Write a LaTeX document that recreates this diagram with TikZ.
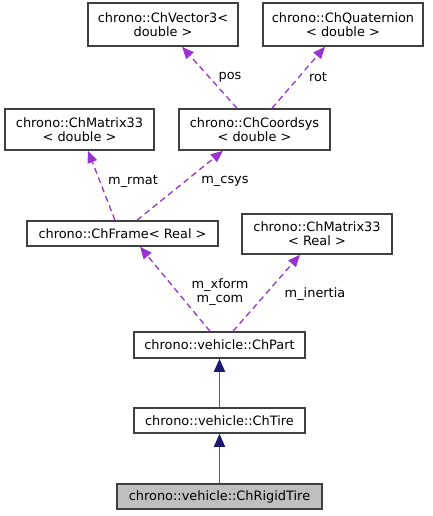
\documentclass[tikz,border=0pt]{standalone}
\usepackage{fontspec}
\setmainfont{DejaVu Sans}
\usetikzlibrary{arrows.meta,calc}
\definecolor{dep}{HTML}{9A32CD}
\definecolor{inh}{HTML}{191970}
\definecolor{inhline}{HTML}{5A5A9E}
\definecolor{bord}{HTML}{404040}
\begin{document}
\begin{tikzpicture}[x=1pt,y=-1pt,
  box/.style={draw=bord,line width=1.5pt,fill=white,align=center,inner sep=0pt,font=\fontsize{12.9}{14}\selectfont},
  depl/.style={draw=dep,dash pattern=on 6pt off 4pt,line width=1.3pt,-{Triangle[length=12pt,width=10pt,color=dep,fill=dep]}},
  inhl/.style={draw=inhline,line width=1.7pt,-{Triangle[length=13pt,width=11pt,color=inh,fill=inh]}},
  lbl/.style={font=\fontsize{12.9}{14}\selectfont,align=center,inner sep=0pt}]
\useasboundingbox (0,0) rectangle (432,516);
\node[box,minimum width=150pt,minimum height=43pt] (vec) at (163,24.5) {chrono::ChVector3<\\double >};
\node[box,minimum width=160pt,minimum height=43pt] (quat) at (343,24.5) {chrono::ChQuaternion\\< double >};
\node[box,minimum width=149pt,minimum height=41pt] (matd) at (79.5,129.5) {chrono::ChMatrix33\\< double >};
\node[box,minimum width=151pt,minimum height=41pt] (coord) at (254.5,129.5) {chrono::ChCoordsys\\< double >};
\node[box,minimum width=191pt,minimum height=25pt] (frame) at (122.5,233.5) {chrono::ChFrame< Real >};
\node[box,minimum width=150pt,minimum height=40pt] (matr) at (317,234) {chrono::ChMatrix33\\< Real >};
\node[box,minimum width=171pt,minimum height=26pt] (part) at (219.5,345) {chrono::vehicle::ChPart};
\node[box,minimum width=171pt,minimum height=25pt] (tire) at (219.5,420.5) {chrono::vehicle::ChTire};
\node[box,fill=black!25,minimum width=205pt,minimum height=25pt] (rigid) at (219.5,496.5) {chrono::vehicle::ChRigidTire};
\draw[depl] ($(coord.north)+(-17.5,0)$) -- ($(vec.south)+(19,0)$);
\draw[depl] ($(coord.north)+(17.5,0)$) -- ($(quat.south)+(-18,0)$);
\draw[depl] ($(frame.north)+(-7.5,0)$) -- ($(matd.south)+(8.5,0)$);
\draw[depl] ($(frame.north)+(14.5,0)$) -- ($(coord.south)+(-31.5,0)$);
\draw[depl] ($(part.north)+(-9.5,0)$) -- ($(frame.south)+(17.5,0)$);
\draw[depl] ($(part.north)+(13.5,0)$) -- ($(matr.south)+(-17,0)$);
\draw[inhl] (tire.north) -- (part.south);
\draw[inhl] (rigid.north) -- (tire.south);
\node[lbl] (lpos) at (230,77) {pos};
\node[lbl] (lrot) at (318,77) {rot};
\node[lbl] (lrmat) at (133,181) {m\_rmat};
\node[lbl] (lcsys) at (225,181) {m\_csys};
\node[lbl] (lxf) at (220,292) {m\_xform\\m\_com};
\node[lbl] (lin) at (315,294) {m\_inertia};
\end{tikzpicture}
\end{document}
